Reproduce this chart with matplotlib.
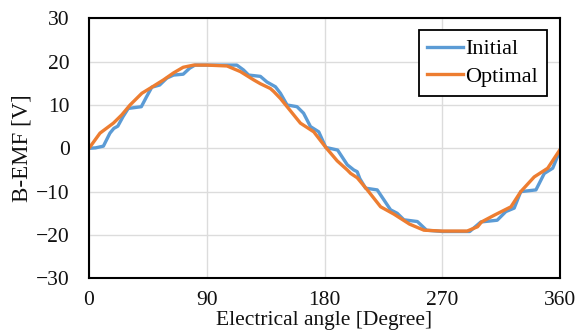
import matplotlib
matplotlib.use("Agg")
import matplotlib.pyplot as plt

# Data
initial_deg = [0, 5, 11, 16, 19, 22, 26, 30, 40, 44, 48, 54, 59.5, 64.6, 72, 77, 81, 90, 113,
               118, 122, 131, 136, 142.5, 146.3, 151.4, 159, 164, 169.3, 175.6, 181, 190, 195,
               197.4, 202.4, 205, 207, 211.4, 220.3, 225.4, 230.5, 235.6, 240.7, 251, 258, 270,
               291, 299.5, 312, 318.6, 325, 330, 341.6, 348, 354.4, 360]
initial_v = [0, 0.1, 0.5, 3.5, 4.6, 5.1, 7.3, 9.2, 9.6, 11.9, 14.1, 14.6, 16.2, 16.9, 17.1, 18.5,
             19.2, 19.2, 19.2, 18.1, 16.9, 16.6, 15.3, 14.2, 12.7, 10.0, 9.6, 8.1, 5.0, 3.8, 0.2,
             -0.4, -2.7, -3.8, -5.0, -5.4, -7.0, -9.2, -9.6, -11.9, -14.2, -15.0, -16.5, -16.9,
             -18.9, -19.2, -19.2, -17.0, -16.6, -14.6, -13.8, -10.0, -9.6, -5.8, -4.6, -0.5]

optimal_deg = [0, 8.4, 18.6, 25, 31.4, 40.4, 48, 57, 64.6, 72, 80, 90, 105.5, 115.7, 125.8, 131,
               138.6, 141.2, 146.3, 151.4, 161.6, 171.8, 181, 189.7, 197.4, 200, 205, 212.7,
               222.9, 233.1, 245, 256, 270, 289, 297, 300, 310, 322.5, 330, 340.3, 350.6, 360]
optimal_v = [0, 3.5, 5.8, 7.7, 10.0, 12.7, 14.1, 15.8, 17.4, 18.7, 19.2, 19.2, 19.0, 17.7, 15.8,
             14.9, 13.8, 13.1, 11.5, 9.6, 5.8, 3.8, 0.2, -2.9, -5.0, -5.8, -6.8, -9.6, -13.5,
             -15.2, -17.5, -18.9, -19.1, -19.1, -18.1, -17.0, -15.4, -13.5, -10.0, -6.6, -4.6,
             -0.3]

x_ticks = [0, 90, 180, 270, 360]
y_ticks = [-30, -20, -10, 0, 10, 20, 30]

plt.rcParams['font.family'] = ['Liberation Serif', 'DejaVu Serif']

fig = plt.figure(figsize=(5.79, 3.36), dpi=100)
ax = fig.add_axes([89/579, 1 - 278.3/336, (560 - 89)/579, (278.3 - 18.3)/336])

ax.plot(initial_deg, initial_v, color='#5B9BD5', lw=2.4, label='Initial', solid_joinstyle='round')
ax.plot(optimal_deg, optimal_v, color='#ED7D31', lw=2.4, label='Optimal', solid_joinstyle='round')

ax.set_xlim(0, 360)
ax.set_ylim(-30, 30)
ax.set_xticks(x_ticks)
ax.set_yticks(y_ticks)
ax.grid(True, color='#DCDCDC', lw=1.0)
ax.set_axisbelow(True)
ax.tick_params(length=0, labelsize=15.5, colors='#111111')
ax.tick_params(axis='y', pad=14)
ax.tick_params(axis='x', pad=9)
for s in ax.spines.values():
    s.set_color('black')
    s.set_linewidth(1.5)

ax.set_xlabel('Electrical angle [Degree]', fontsize=15.5, color='#111111')
ax.set_ylabel('B-EMF [V]', fontsize=16.5, color='#111111')
ax.xaxis.set_label_coords(0.5, -0.124)
ax.yaxis.set_label_coords(-0.119, 0.5)

leg = ax.legend(loc='upper right', bbox_to_anchor=(0.972, 0.955), borderaxespad=0,
                fontsize=16, frameon=True, fancybox=False, edgecolor='black',
                handlelength=1.6, handletextpad=0.1, borderpad=0.4, labelspacing=0.3,
                framealpha=1)
leg.get_frame().set_linewidth(1.3)

fig.savefig('out.png', dpi=100)
